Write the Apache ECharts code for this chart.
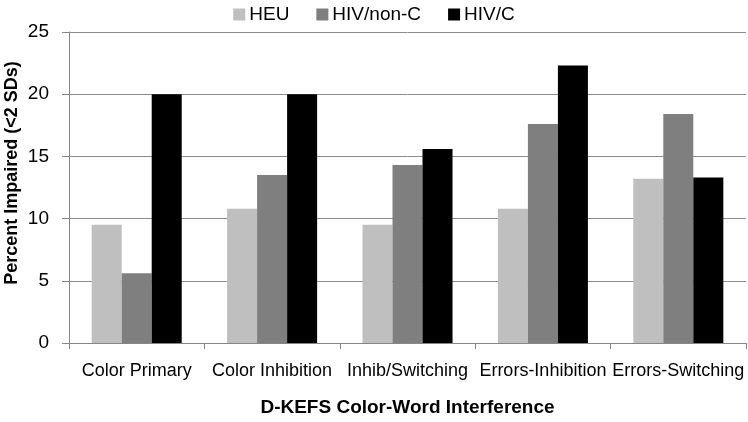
<!DOCTYPE html>
<html>
<head>
<meta charset="utf-8">
<script src="https://cdn.jsdelivr.net/npm/echarts@6/dist/echarts.min.js"></script>
<style>
html,body{margin:0;padding:0;background:#fff;}
#c{width:748px;height:422px;}
</style>
</head>
<body>
<div id="c"></div>
<script>
var categories = ['Color Primary', 'Color Inhibition', 'Inhib/Switching', 'Errors-Inhibition', 'Errors-Switching'];
var seriesNames = ['HEU', 'HIV/non-C', 'HIV/C'];
var heu = [9.5, 10.8, 9.5, 10.8, 13.2];
var hivNonC = [5.6, 13.5, 14.3, 17.6, 18.4];
var hivC = [20.0, 20.0, 15.6, 22.3, 13.3];
var colors = ['#bfbfbf', '#7f7f7f', '#000000'];
var yTicks = {min: 0, max: 25, interval: 5};

var chart = echarts.init(document.getElementById('c'));
var font = '"Liberation Sans", Arial, sans-serif';
var dataSets = [heu, hivNonC, hivC];
chart.setOption({
  animation: false,
  textStyle: {fontFamily: font},
  legend: {
    top: 0,
    left: 'center',
    icon: 'rect',
    itemWidth: 12,
    itemHeight: 12,
    itemGap: 27,
    textStyle: {fontSize: 19, color: '#000', fontFamily: font, padding: [0, 0, 0, -1]},
    data: seriesNames
  },
  grid: {left: 69, right: 2, top: 32, bottom: 73, containLabel: false},
  xAxis: {
    type: 'category',
    data: categories,
    axisLine: {lineStyle: {color: '#868686', width: 1}},
    axisTick: {show: true, length: 6, inside: false, lineStyle: {color: '#868686'}},
    axisLabel: {interval: 0, fontSize: 18, color: '#000', margin: 19, fontFamily: font},
    name: 'D-KEFS Color-Word Interference',
    nameLocation: 'middle',
    nameGap: 55,
    nameTextStyle: {fontSize: 19, fontWeight: 'bold', color: '#000', fontFamily: font}
  },
  yAxis: {
    type: 'value',
    min: yTicks.min,
    max: yTicks.max,
    interval: yTicks.interval,
    axisLine: {show: true, lineStyle: {color: '#868686'}},
    axisTick: {show: true, length: 7, lineStyle: {color: '#868686'}},
    splitLine: {lineStyle: {color: '#8c8c8c', width: 1}},
    axisLabel: {fontSize: 19, color: '#000', margin: 20, fontFamily: font}
  },
  graphic: [{
    type: 'text',
    x: 3,
    y: 173,
    rotation: Math.PI / 2,
    style: {
      text: 'Percent Impaired (<2 SDs)',
      font: 'bold 18px "Liberation Sans", Arial, sans-serif',
      fill: '#000',
      textAlign: 'center',
      textVerticalAlign: 'top'
    }
  }],
  series: seriesNames.map(function (n, i) {
    return {
      name: n,
      type: 'bar',
      data: dataSets[i],
      barGap: '0%',
      barCategoryGap: '33.5%',
      itemStyle: {color: colors[i]}
    };
  })
});
</script>
</body>
</html>
